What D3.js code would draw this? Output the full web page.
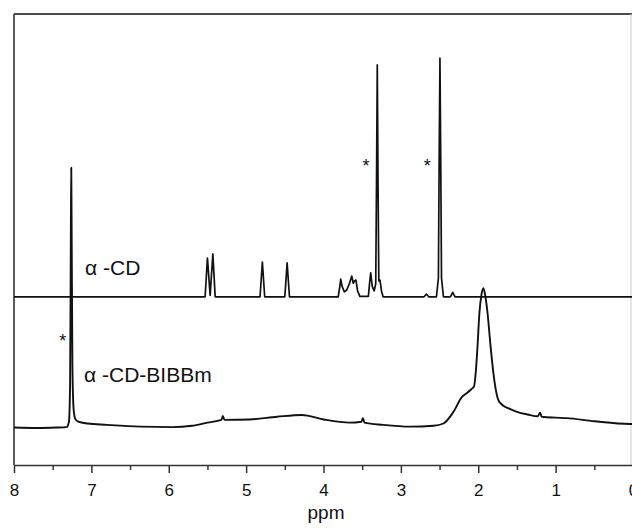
<!DOCTYPE html>
<html>
<head>
<meta charset="utf-8">
<script src="https://cdn.jsdelivr.net/npm/d3@7/dist/d3.min.js"></script>
<style>
  html, body { margin: 0; padding: 0; background: #fff; }
  svg { display: block; }
  text { font-family: "Liberation Sans", Arial, Helvetica, sans-serif; fill: #111; }
</style>
</head>
<body>
<svg id="chart" width="632" height="528"></svg>
<script>
// 1H NMR spectra, chemical shift (ppm) vs. intensity (arbitrary units, stacked)

// α-CD in DMSO-d6 (upper trace)
const cdSpectrum = [
  [8.00, 37.3], [5.53, 37.3], [5.50, 45.9], [5.465, 37.6], [5.43, 46.8], [5.40, 37.3],
  [4.82, 37.3], [4.79, 45.0], [4.76, 37.3],
  [4.50, 37.3], [4.47, 44.8], [4.44, 37.3],
  [3.81, 37.3], [3.79, 39.5], [3.777, 41.2], [3.76, 39.6], [3.73, 38.4], [3.70, 38.8],
  [3.665, 40.2], [3.635, 41.9], [3.615, 40.3], [3.60, 40.8], [3.58, 41.0], [3.56, 38.6],
  [3.53, 37.4], [3.42, 37.4], [3.405, 40.2], [3.39, 42.6], [3.37, 39.6], [3.345, 38.6],
  [3.325, 40.2], [3.315, 62.0], [3.305, 88.7], [3.295, 62.0], [3.285, 40.8], [3.27, 41.0],
  [3.25, 38.5], [3.23, 37.3],
  [2.70, 37.3], [2.67, 37.9], [2.64, 37.3],
  [2.54, 37.3], [2.515, 41.5], [2.505, 68.0], [2.495, 90.2], [2.485, 68.0], [2.475, 41.5], [2.45, 37.3],
  [2.36, 37.3], [2.33, 38.3], [2.30, 37.3],
  [0.00, 37.3]
];

// α-CD-BIBBm in CDCl3 (lower trace)
const cdBibbmSpectrum = [
  [8.00, 8.3], [7.70, 8.2], [7.45, 8.3], [7.32, 8.4], [7.29, 9.6], [7.275, 18.0],
  [7.265, 52.0], [7.26, 65.9], [7.255, 52.0], [7.245, 22.0], [7.23, 12.5], [7.21, 10.3],
  [7.17, 9.6], [7.05, 9.2], [6.80, 8.9], [6.37, 8.5], [5.95, 8.4], [5.70, 8.7], [5.50, 9.4],
  [5.32, 10.0], [5.30, 10.9], [5.28, 10.0], [4.95, 10.1], [4.60, 10.7], [4.28, 11.1],
  [4.00, 10.1], [3.66, 9.4], [3.51, 9.6], [3.49, 10.4], [3.47, 9.4], [3.23, 8.9],
  [2.88, 8.5], [2.58, 8.7], [2.45, 9.2], [2.32, 11.8], [2.21, 15.1], [2.15, 15.9],
  [2.09, 16.8], [2.055, 17.4], [2.03, 21.0], [2.01, 26.2], [1.985, 33.7], [1.96, 37.6],
  [1.934, 39.2], [1.91, 37.6], [1.88, 33.7], [1.84, 26.2], [1.79, 18.5], [1.74, 14.4],
  [1.68, 13.2], [1.60, 12.5], [1.50, 11.8], [1.36, 11.2], [1.23, 10.8], [1.20, 11.6],
  [1.18, 10.7], [1.00, 10.5], [0.86, 10.4], [0.50, 9.7], [0.04, 9.1], [0.00, 9.1]
];

const majorTicks = [8, 7, 6, 5, 4, 3, 2, 1, 0];
const minorTicks = [7.5, 6.5, 5.5, 4.5, 3.5, 2.5, 1.5, 0.5];
const traceLabels = ["α -CD", "α -CD-BIBBm"];
const solventMarks = [[3.45, 65.0], [2.66, 65.0], [7.37, 26.2]];

const svg = d3.select("#chart");
const plotLeft = 14, plotRight = 633, plotTop = 14, plotBottom = 465;

const x = d3.scaleLinear().domain([8, 0]).range([plotLeft, plotRight]);
const y = d3.scaleLinear().domain([0, 100]).range([plotBottom, plotTop]);

const sharpLine = d3.line().x(d => x(d[0])).y(d => y(d[1]));
const smoothLine = d3.line().x(d => x(d[0])).y(d => y(d[1])).curve(d3.curveMonotoneX);

// frame
svg.append("line").attr("x1", plotLeft).attr("x2", 632).attr("y1", plotTop).attr("y2", plotTop)
  .attr("stroke", "#111").attr("stroke-width", 1.6);
svg.append("line").attr("x1", plotLeft).attr("x2", plotLeft).attr("y1", plotTop).attr("y2", plotBottom)
  .attr("stroke", "#333").attr("stroke-width", 1.6);
svg.append("line").attr("x1", 631).attr("x2", 631).attr("y1", plotTop).attr("y2", plotBottom)
  .attr("stroke", "#ccc").attr("stroke-width", 1);

// spectra
svg.append("path").datum(cdSpectrum).attr("d", sharpLine)
  .attr("fill", "none").attr("stroke", "#111").attr("stroke-width", 1.7)
  .attr("stroke-linejoin", "round");
svg.append("path").datum(cdBibbmSpectrum).attr("d", smoothLine)
  .attr("fill", "none").attr("stroke", "#111").attr("stroke-width", 1.9)
  .attr("stroke-linejoin", "round");

// x axis
const axisG = svg.append("g").attr("transform", `translate(0,${plotBottom})`);
axisG.call(d3.axisBottom(x).tickValues(majorTicks).tickFormat(d3.format("d"))
  .tickSize(8).tickSizeOuter(0).tickPadding(11));
axisG.select(".domain").attr("stroke", "#333").attr("stroke-width", 1.6);
axisG.selectAll(".tick line").attr("stroke", "#333").attr("stroke-width", 1.5);
axisG.selectAll(".tick text").attr("font-size", 17).attr("fill", "#222")
  .style("font-family", '"Liberation Sans", Arial, sans-serif');

const minorG = svg.append("g").attr("transform", `translate(0,${plotBottom})`);
minorG.call(d3.axisBottom(x).tickValues(minorTicks).tickFormat("").tickSize(5).tickSizeOuter(0));
minorG.select(".domain").remove();
minorG.selectAll(".tick line").attr("stroke", "#333").attr("stroke-width", 1.5);

svg.append("text").attr("x", 326).attr("y", 519).attr("text-anchor", "middle")
  .attr("font-size", 19).attr("fill", "#222").text("ppm");

// trace labels
svg.append("text").attr("x", 85).attr("y", 275).attr("font-size", 21).text(traceLabels[0]);
svg.append("text").attr("x", 84).attr("y", 382).attr("font-size", 21).text(traceLabels[1]);

// solvent peak markers
svg.selectAll("text.star").data(solventMarks).enter().append("text")
  .attr("class", "star")
  .attr("x", d => x(d[0])).attr("y", d => y(d[1]))
  .attr("text-anchor", "middle").attr("font-size", 18).attr("fill", "#222").text("*");
</script>
</body>
</html>
